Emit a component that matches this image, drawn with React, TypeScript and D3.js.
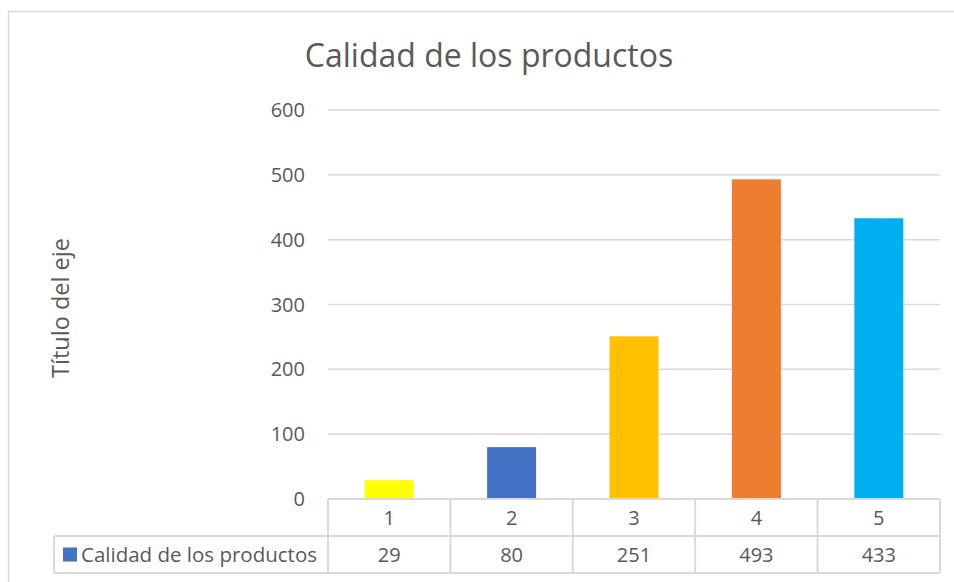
import React from 'react';
import * as d3 from 'd3';

// chart data
const categories = ['1', '2', '3', '4', '5'];
const values = [29, 80, 251, 493, 433];
const barColors = ['#FFFF00', '#4472C4', '#FFC000', '#ED7D31', '#00B0F0'];
const yTicks = [0, 100, 200, 300, 400, 500, 600];
const seriesName = 'Calidad de los productos';

const App = () => {
    const width = 954;
    const height = 582;
    const plotLeft = 328;
    const plotRight = 940;
    const plotTop = 110;
    const plotBottom = 499;
    const rowH = 37;
    const legendLeft = 54;
    const textColor = '#595959';
    const gridColor = '#D9D9D9';
    const font = "'Open Sans', 'Noto Sans', sans-serif";

    const x = d3.scaleBand().domain(categories).range([plotLeft, plotRight]).paddingInner(0.6).paddingOuter(0.3);
    const cell = d3.scaleBand().domain(categories).range([plotLeft, plotRight]);
    const y = d3.scaleLinear().domain([0, 600]).range([plotBottom, plotTop]);

    return (
        <svg width={width} height={height} style={{ position: 'absolute', left: 0, top: 0, fontFamily: font }}>
            <rect x={0} y={0} width={width} height={height} fill="white" />
            {/* chart border */}
            <rect x={8.5} y={11.5} width={width + 10} height={height + 10} fill="none" stroke={gridColor} strokeWidth={1.5} />

            <text x={489} y={67} textAnchor="middle" fontSize={32} fill={textColor}>{seriesName}</text>

            <text transform={`translate(69,308) rotate(-90)`} textAnchor="middle" fontSize={23.5} fill={textColor}>Título del eje</text>

            {/* gridlines + tick labels */}
            {yTicks.map(t => (
                <g key={t}>
                    {t > 0 && <line x1={plotLeft} x2={plotRight} y1={y(t)} y2={y(t)} stroke={gridColor} strokeWidth={1.5} />}
                    <text x={305} y={y(t)} dy="0.35em" textAnchor="end" fontSize={20} fill={textColor}>{t}</text>
                </g>
            ))}

            {/* bars */}
            {values.map((v, i) => (
                <rect key={i} x={x(categories[i])} y={y(v)} width={x.bandwidth()} height={y(0) - y(v)} fill={barColors[i]} />
            ))}

            {/* data table */}
            <g stroke={gridColor} strokeWidth={2} fill="none">
                <line x1={plotLeft} x2={plotRight} y1={plotBottom} y2={plotBottom} />
                <line x1={legendLeft} x2={plotRight} y1={plotBottom + rowH} y2={plotBottom + rowH} />
                <line x1={legendLeft} x2={plotRight} y1={plotBottom + rowH * 2} y2={plotBottom + rowH * 2} />
                <line x1={legendLeft} x2={legendLeft} y1={plotBottom + rowH} y2={plotBottom + rowH * 2} />
                {categories.map(c => (
                    <line key={c} x1={cell(c)} x2={cell(c)} y1={plotBottom} y2={plotBottom + rowH * 2} />
                ))}
                <line x1={plotRight} x2={plotRight} y1={plotBottom} y2={plotBottom + rowH * 2} />
            </g>
            {categories.map((c, i) => (
                <g key={c} fontSize={20} fill={textColor} textAnchor="middle">
                    <text x={cell(c) + cell.bandwidth() / 2} y={plotBottom + rowH / 2} dy="0.35em">{c}</text>
                    <text x={cell(c) + cell.bandwidth() / 2} y={plotBottom + rowH * 1.5} dy="0.35em">{values[i]}</text>
                </g>
            ))}
            <rect x={63} y={plotBottom + rowH * 1.5 - 7} width={14} height={14} fill="#4472C4" />
            <text x={81} y={plotBottom + rowH * 1.5} dy="0.35em" fontSize={20.5} fill={textColor}>{seriesName}</text>
        </svg>
    );
};

export default App;
